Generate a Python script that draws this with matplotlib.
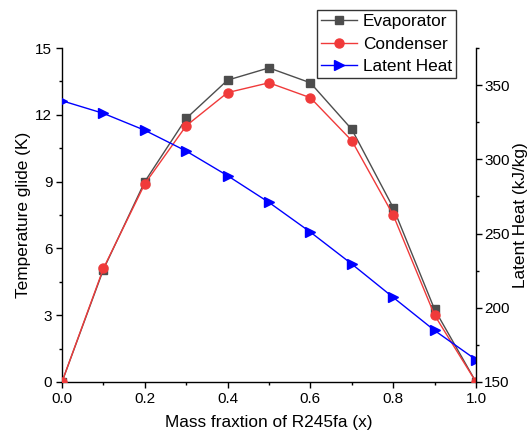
import matplotlib
matplotlib.use("Agg")
import matplotlib.pyplot as plt
from matplotlib.ticker import MultipleLocator

plt.rcParams['font.family'] = ['Liberation Sans', 'DejaVu Sans']

x = [0.0, 0.1, 0.2, 0.3, 0.4, 0.5, 0.6, 0.7, 0.8, 0.9, 1.0]
evaporator = [0.0, 5.05, 9.0, 11.84, 13.56, 14.11, 13.44, 11.35, 7.83, 3.26, 0.0]
condenser = [0.0, 5.1, 8.9, 11.51, 13.0, 13.44, 12.77, 10.84, 7.5, 3.0, 0.0]
latent = [339.5, 331.0, 319.6, 305.6, 289.0, 271.0, 251.0, 229.5, 207.0, 184.7, 165.0]

fig = plt.figure(figsize=(5.28, 4.37), dpi=100)
ax = fig.add_axes([0.1174, 0.1259, 0.7841, 0.7641])
ax2 = ax.twinx()

l1, = ax.plot(x, evaporator, color='#4d4d4d', lw=1.0, marker='s', ms=5.5, label='Evaporator', zorder=3)
l2, = ax.plot(x, condenser, color='#f03a3a', lw=1.0, marker='o', ms=6.5, label='Condenser', zorder=4)
l3, = ax2.plot(x, latent, color='#0000ff', lw=1.0, marker='>', ms=6.5, label='Latent Heat')

ax.set_xlim(0, 1.0)
ax.set_ylim(0, 15)
ax2.set_ylim(150, 375)

ax.xaxis.set_major_locator(MultipleLocator(0.2))
ax.xaxis.set_minor_locator(MultipleLocator(0.1))
ax.yaxis.set_major_locator(MultipleLocator(3))
ax.yaxis.set_minor_locator(MultipleLocator(1.5))
ax2.yaxis.set_major_locator(MultipleLocator(50))
ax2.yaxis.set_minor_locator(MultipleLocator(25))

for a in (ax, ax2):
    a.spines['top'].set_visible(False)
    a.tick_params(which='major', direction='out', length=4, width=1, labelsize=11, pad=3)
    a.tick_params(which='minor', direction='out', length=2.5, width=1)
    for s in a.spines.values():
        s.set_linewidth(1.0)
ax.spines['right'].set_visible(False)
ax2.spines['left'].set_visible(False)
ax2.spines['bottom'].set_visible(False)
ax2.tick_params(axis='y', pad=2)

ax.set_xlabel('Mass fraxtion of R245fa (x)', fontsize=12.4, labelpad=7)
ax.set_ylabel('Temperature glide (K)', fontsize=12.4, labelpad=3)
ax2.set_ylabel('Latent Heat (kJ/kg)', fontsize=12.4, labelpad=2)

leg = fig.legend(handles=[l1, l2, l3], loc='upper left', bbox_to_anchor=(317/528, 1 - 10/437),
                 fontsize=12.4, frameon=True, fancybox=False, edgecolor='black',
                 borderpad=0.25, labelspacing=0.42, handlelength=2.1, handletextpad=0.3,
                 borderaxespad=0)
leg.get_frame().set_linewidth(1.0)

fig.savefig('out.png', dpi=100)
